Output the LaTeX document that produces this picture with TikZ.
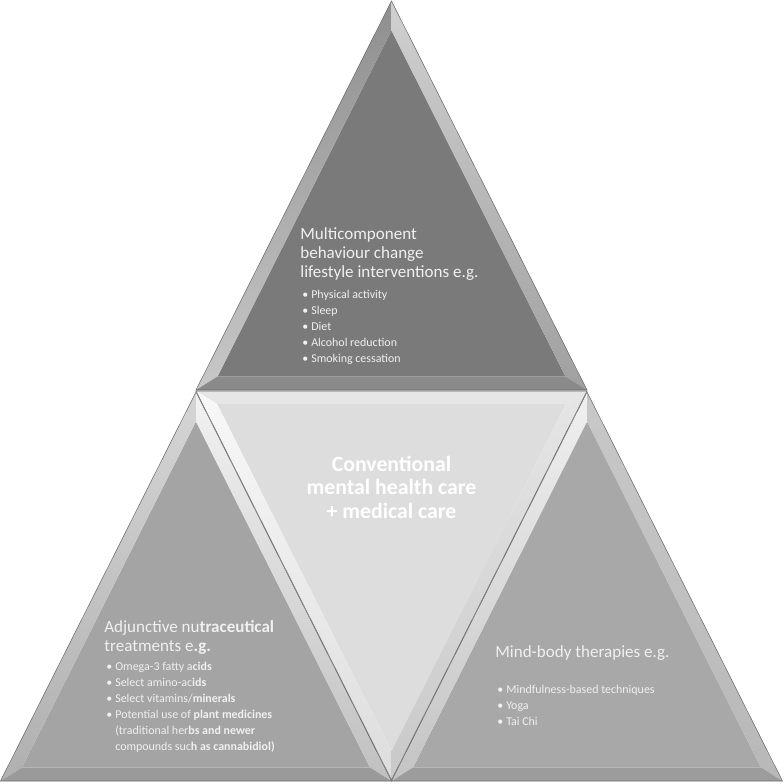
\documentclass[tikz,border=0pt]{standalone}
\usepackage{fontspec}
\setmainfont{Carlito}
\usetikzlibrary{calc}
\definecolor{g7A}{HTML}{7A7A7A}
\definecolor{g8A}{HTML}{8E8E8E}
\definecolor{gC8}{HTML}{C8C8C8}
\definecolor{gD0}{HTML}{D0D0D0}
\definecolor{gA0}{HTML}{A0A0A0}
\definecolor{g8C}{HTML}{8A8A8A}
\definecolor{gA4}{HTML}{A4A4A4}
\definecolor{gD5}{HTML}{D5D5D5}
\definecolor{gB0}{HTML}{B0B0B0}
\definecolor{gF2}{HTML}{F2F2F2}
\definecolor{gC0}{HTML}{C0C0C0}
\definecolor{g9A}{HTML}{9A9A9A}
\definecolor{gA8}{HTML}{A8A8A8}
\definecolor{gF0}{HTML}{F0F0F0}
\definecolor{gC4}{HTML}{C4C4C4}
\definecolor{gB8}{HTML}{B8B8B8}
\definecolor{g9C}{HTML}{9C9C9C}
\definecolor{gDD}{HTML}{DDDDDD}
\definecolor{gE6}{HTML}{E6E6E6}
\definecolor{gF8}{HTML}{F8F8F8}
\definecolor{edge}{HTML}{6A6A6A}
\tikzset{
    head/.style={anchor=base west, inner sep=0pt, align=left,
        text=gF0, font=\fontsize{9.7}{10.8}\selectfont},
    list/.style={anchor=base west, inner sep=0pt, align=left,
        text=gF0, font=\fontsize{6.8}{9.1}\selectfont},
    core/.style={anchor=base, inner sep=0pt, align=center,
        text=white, font=\bfseries\fontsize{12.4}{13.1}\selectfont},
    rim/.style={draw=edge, line width=0.3pt}
}
\newcommand{\bul}{\makebox[5.1pt][l]{\textbullet}}
\newcommand{\nobul}{\hspace*{5.1pt}}

\begin{document}
\begin{tikzpicture}[x=0.2mm, y=-0.2mm]
	\useasboundingbox (0,0) rectangle (784,784);

	% upright triangles: apex, face colour, bevels
	\foreach \ax/\ay/\fc/\lt/\lb/\rt/\rb/\bc in {
		391.5/1/g7A/g8A/gC8/gD0/gA0/g8C,
		196/392/gA4/gD5/gB0/gF2/gC0/g9A,
		587/392/gA8/gF0/gC4/gC8/gB8/g9C}
	{
	\begin{scope}[shift={(\ax,\ay)}]
		\coordinate (A) at (0,0);
		\coordinate (B) at (-195.5,389);
		\coordinate (C) at (195.5,389);
		\coordinate (a) at (0,29.5);
		\coordinate (b) at (-174,375.5);
		\coordinate (c) at (174,375.5);
		\fill[\fc] (a) -- (b) -- (c) -- cycle;
		\shade[top color=\lt, bottom color=\lb] (A) -- (B) -- (b) -- (a) -- cycle;
		\shade[top color=\rt, bottom color=\rb] (A) -- (C) -- (c) -- (a) -- cycle;
		\fill[\bc] (B) -- (C) -- (c) -- (b) -- cycle;
		\draw[rim] (A) -- (B) -- (C) -- cycle;
	\end{scope}
	}

	% inverted middle triangle
	\coordinate (P) at (196,391);
	\coordinate (Q) at (587,391);
	\coordinate (R) at (391.5,780);
	\coordinate (p) at (217.1,404);
	\coordinate (q) at (565.9,404);
	\coordinate (r) at (391.5,751);
	\fill[gDD] (p) -- (q) -- (r) -- cycle;
	\fill[gE6] (P) -- (Q) -- (q) -- (p) -- cycle;
	\shade[top color=gF8, bottom color=gDD] (P) -- (R) -- (r) -- (p) -- cycle;
	\shade[top color=gE6, bottom color=gC8] (Q) -- (R) -- (r) -- (q) -- cycle;
	\draw[rim] (P) -- (Q) -- (R) -- cycle;

	% texts (base = last line)
	\node[head] (mbc) at (300,277) {Multicomponent\\behaviour change\\lifestyle interventions e.g.};
	\node[list] (mbclist) at (302,362) {\bul Physical activity\\\bul Sleep\\\bul Diet\\\bul Alcohol reduction\\\bul Smoking cessation};

	\node[core] (cmh) at (391.5,518) {Conventional\\mental health care\\+ medical care};

	\node[head] (nut) at (104,651) {Adjunctive nu\textbf{traceutical}\\treatments e\textbf{.g.}};
	\node[list] (nutlist) at (106,750) {\bul Omega-3 fatty a\textbf{cids}\\\bul Select amino-ac\textbf{ids}\\\bul Select vitamins/\textbf{minerals}\\\bul Potential use of \textbf{plant medicines}\\\nobul(traditional her\textbf{bs and newer}\\\nobul compounds suc\textbf{h as cannabidiol)}};

	\node[head] (mbt) at (495,657) {Mind-body therapies e.g.};
	\node[list] (mbtlist) at (497,725) {\bul Mindfulness-based techniques\\\bul Yoga\\\bul Tai Chi};
\end{tikzpicture}
\end{document}
